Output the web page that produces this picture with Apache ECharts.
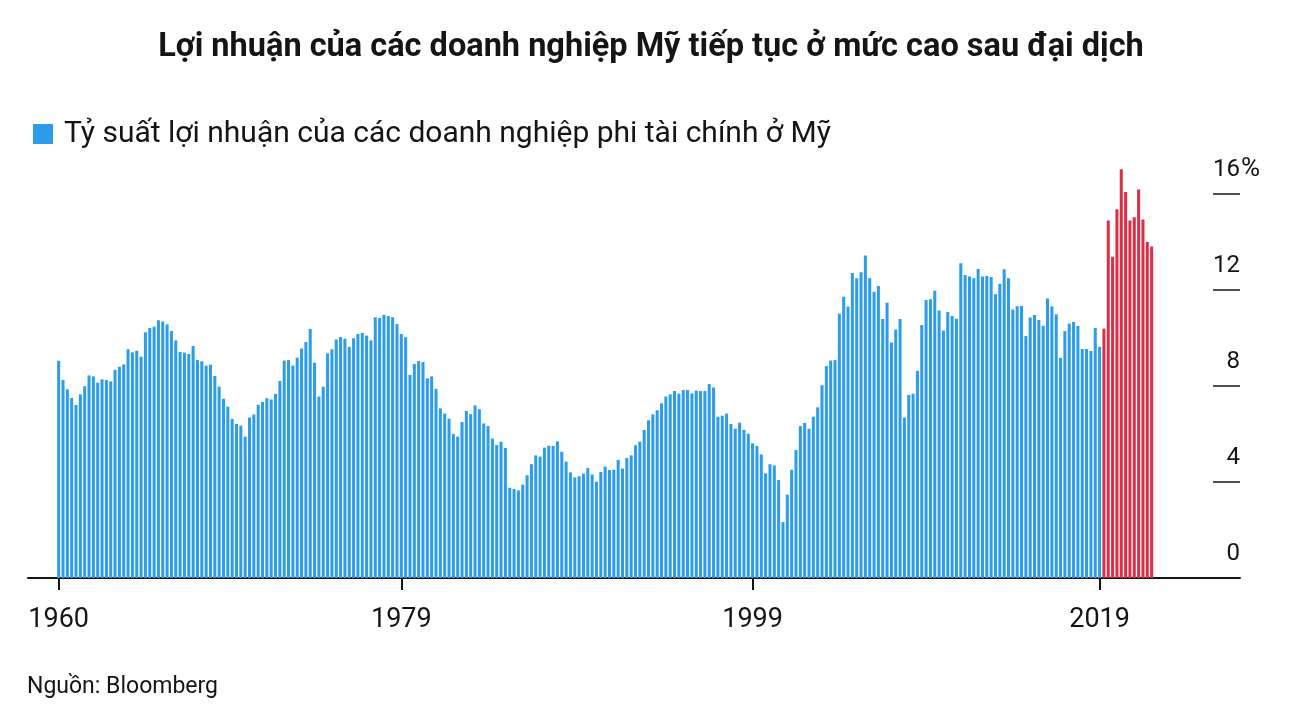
<!DOCTYPE html>
<html>
<head>
    <meta charset="utf-8">
    <title>Lợi nhuận doanh nghiệp Mỹ</title>
    <script src="https://cdn.jsdelivr.net/npm/echarts@6/dist/echarts.min.js"></script>
    <style>
        html, body { margin: 0; padding: 0; background: #fff; }
        #main { width: 1302px; height: 713px; }
    </style>
</head>
<body>
<div id="main"></div>

<script>
    // Tỷ suất lợi nhuận theo quý (%), bắt đầu 1960 Q1
    const blueValues = [
        9.05, 8.25, 7.86, 7.50, 7.21, 7.65, 7.99, 8.44, 8.40, 8.14,
        8.28, 8.25, 8.19, 8.67, 8.80, 8.90, 9.53, 9.40, 9.47, 9.22,
        10.24, 10.42, 10.47, 10.74, 10.69, 10.57, 10.29, 9.90, 9.42, 9.39,
        9.33, 9.67, 9.08, 9.03, 8.85, 8.89, 8.42, 7.97, 7.47, 7.14,
        6.63, 6.42, 6.35, 5.89, 6.69, 6.81, 7.22, 7.33, 7.49, 7.44,
        7.67, 8.21, 9.06, 9.08, 8.85, 9.18, 9.56, 9.83, 10.38, 8.97,
        7.56, 7.97, 9.36, 9.53, 9.94, 10.04, 9.97, 9.63, 9.99, 10.17,
        10.21, 10.10, 9.90, 10.86, 10.83, 10.97, 10.92, 10.86, 10.58, 10.17,
        10.03, 8.46, 8.92, 9.04, 9.00, 8.32, 8.40, 7.88, 7.07, 6.85,
        6.64, 6.00, 5.89, 6.50, 6.96, 6.83, 7.19, 7.03, 6.44, 6.33,
        5.81, 5.54, 5.68, 5.42, 3.76, 3.71, 3.65, 3.89, 4.28, 4.74,
        5.11, 5.06, 5.43, 5.51, 5.50, 5.69, 5.26, 4.85, 4.40, 4.19,
        4.24, 4.35, 4.58, 4.31, 4.01, 4.42, 4.64, 4.50, 4.51, 4.92,
        4.56, 5.00, 5.11, 5.53, 5.68, 6.17, 6.57, 6.82, 6.99, 7.28,
        7.56, 7.65, 7.79, 7.68, 7.83, 7.83, 7.69, 7.81, 7.79, 7.79,
        8.08, 7.94, 6.72, 6.76, 6.85, 6.42, 6.22, 6.47, 6.17, 6.01,
        5.61, 5.50, 5.15, 4.36, 4.74, 4.69, 4.08, 2.33, 3.47, 4.51,
        5.33, 6.33, 6.46, 6.22, 6.72, 7.11, 8.03, 8.83, 9.06, 9.08,
        11.01, 11.72, 11.31, 12.71, 12.49, 12.74, 13.44, 12.49, 11.93, 12.17,
        10.79, 11.47, 9.81, 10.35, 10.79, 6.68, 7.63, 7.68, 8.63, 10.54,
        11.58, 11.61, 11.97, 11.15, 10.31, 11.08, 10.92, 10.80, 13.11, 12.63,
        12.56, 12.49, 12.88, 12.56, 12.58, 12.54, 11.82, 12.26, 12.86, 12.49,
        11.19, 11.32, 11.33, 10.08, 10.85, 10.96, 10.75, 10.51, 11.65, 11.31,
        10.99, 9.17, 10.29, 10.60, 10.67, 10.50, 9.54, 9.54, 9.46, 10.42,
        9.63
    ];
    // Giai đoạn sau đại dịch (màu đỏ)
    const redValues = [10.39, 14.90, 13.39, 15.36, 17.03, 16.08, 14.90, 15.03, 16.19, 14.94, 14.00, 13.81];

    const tickIndex = [0, 79, 160, 240];
    const tickLabels = ['1960', '1979', '1999', '2019'];
    const yTicks = [0, 4, 8, 12, 16];

    const total = blueValues.length + redValues.length;
    const categories = [];
    for (let i = 0; i < total; i++) {
        categories.push((1960 + Math.floor(i / 4)) + ' Q' + (i % 4 + 1));
    }
    const blueData = blueValues.concat(redValues.map(() => null));
    const redData = blueValues.map(() => null).concat(redValues);

    const FONT = 'Roboto, "Noto Sans", sans-serif';
    const INK = '#151515';
    const yMax = yTicks[yTicks.length - 1];
    const isTick = (idx) => tickIndex.indexOf(idx) !== -1;

    const chart = echarts.init(document.getElementById('main'));
    chart.setOption({
        animation: false,
        textStyle: {fontFamily: FONT},
        title: [
            {
                text: 'Lợi nhuận của các doanh nghiệp Mỹ tiếp tục ở mức cao sau đại dịch',
                left: 'center',
                top: 26,
                textStyle: {fontFamily: FONT, fontSize: 32.5, fontWeight: 'bold', color: INK}
            },
            {
                text: 'Nguồn: Bloomberg',
                left: 22,
                top: 671,
                textStyle: {fontFamily: FONT, fontSize: 23, fontWeight: 'normal', color: INK}
            }
        ],
        legend: {
            data: ['Tỷ suất lợi nhuận của các doanh nghiệp phi tài chính ở Mỹ'],
            left: 28,
            top: 114,
            icon: 'rect',
            itemWidth: 20,
            itemHeight: 20,
            textStyle: {fontFamily: FONT, fontSize: 30, color: INK, padding: [0, 0, 0, 6]}
        },
        grid: [
            // vùng cột
            {left: 56.5, width: 1097.3, top: 158, height: 420},
            // đường đáy chạy hết chiều ngang
            {left: 28, right: 62, top: 194, height: 384},
            // các vạch ngắn của trục y bên phải
            {left: 1213, right: 62, top: 194, height: 384}
        ],
        xAxis: [
            {
                type: 'category',
                gridIndex: 0,
                data: categories,
                axisLine: {show: false},
                axisTick: {
                    show: true,
                    alignWithLabel: true,
                    interval: (idx) => isTick(idx),
                    length: 12,
                    lineStyle: {color: INK, width: 2}
                },
                axisLabel: {
                    interval: (idx) => isTick(idx),
                    formatter: (v, idx) => tickLabels[tickIndex.indexOf(idx)] || '',
                    margin: 29,
                    fontSize: 27,
                    color: INK,
                    fontFamily: FONT
                }
            },
            {
                type: 'value',
                gridIndex: 1,
                min: 0,
                max: 1,
                axisLine: {show: true, onZero: false, lineStyle: {color: INK, width: 2}},
                axisTick: {show: false},
                axisLabel: {show: false},
                splitLine: {show: false}
            },
            {
                type: 'value',
                gridIndex: 2,
                min: 0,
                max: 1,
                show: false
            }
        ],
        yAxis: [
            {
                type: 'value',
                gridIndex: 0,
                min: 0,
                max: 17.5,
                show: false
            },
            {
                // chỉ dùng để đặt dấu "%" cạnh nhãn trên cùng
                type: 'value',
                gridIndex: 1,
                position: 'right',
                min: yTicks[0],
                max: yMax,
                interval: 4,
                axisLine: {show: false},
                axisTick: {show: false},
                splitLine: {show: false},
                axisLabel: {
                    formatter: (v) => (v === yMax ? '%' : ''),
                    margin: 1,
                    align: 'left',
                    verticalAlign: 'bottom',
                    padding: [0, 0, 12, 0],
                    fontSize: 26,
                    color: INK,
                    fontFamily: FONT
                }
            },
            {
                type: 'value',
                gridIndex: 2,
                position: 'right',
                min: yTicks[0],
                max: yMax,
                interval: 4,
                axisLine: {show: false},
                axisTick: {show: false},
                axisLabel: {
                    inside: true,
                    margin: 0,
                    align: 'right',
                    verticalAlign: 'bottom',
                    padding: [0, 0, 12, 0],
                    fontSize: 24,
                    color: INK,
                    fontFamily: FONT
                },
                splitLine: {show: true, lineStyle: {color: INK, width: 1.5}}
            }
        ],
        series: [
            {
                name: 'Tỷ suất lợi nhuận của các doanh nghiệp phi tài chính ở Mỹ',
                type: 'bar',
                xAxisIndex: 0,
                yAxisIndex: 0,
                data: blueData,
                barWidth: '70%',
                barGap: '-100%',
                itemStyle: {color: '#2d9cea'}
            },
            {
                name: 'Sau đại dịch',
                type: 'bar',
                xAxisIndex: 0,
                yAxisIndex: 0,
                data: redData,
                barWidth: '70%',
                barGap: '-100%',
                itemStyle: {color: '#dc2f47'}
            }
        ]
    });
</script>
</body>
</html>
